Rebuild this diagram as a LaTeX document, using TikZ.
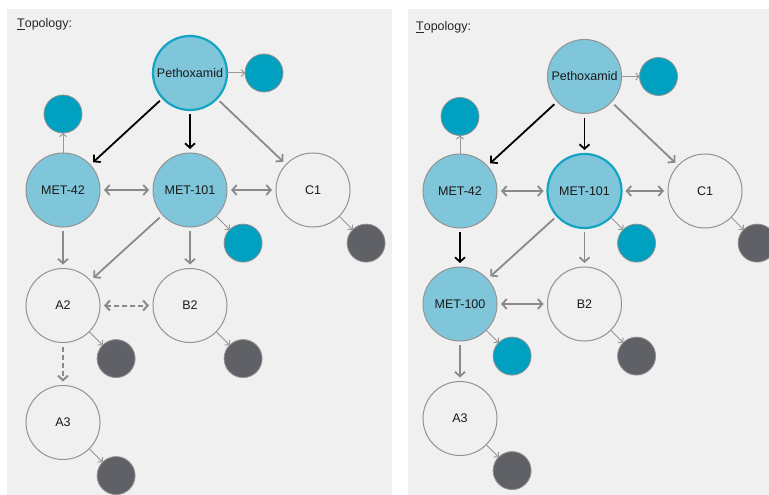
\documentclass[tikz,border=0pt]{standalone}
\usepackage{fontspec}
\setmainfont{Liberation Sans}
\usetikzlibrary{arrows.meta, positioning, calc}

\definecolor{panelbg}{HTML}{F0F0F0}
\definecolor{rimgrey}{HTML}{929292}
\definecolor{linkgrey}{HTML}{8A8A8A}
\definecolor{lightteal}{HTML}{7FC6DB}
\definecolor{deepteal}{HTML}{00A0C0}
\definecolor{rimteal}{HTML}{14A4C3}
\definecolor{slate}{HTML}{5F6166}

\begin{document}
\begin{tikzpicture}[
  x=1pt, y=-1pt,
  % --- styles ------------------------------------------------------------
  substance/.style={
    circle, draw=rimgrey, line width=1pt, fill=panelbg,
    minimum size=74pt, inner sep=0pt, outer sep=0pt,
    font=\fontsize{12.5}{15}\selectfont, text=black!90
  },
  known/.style={fill=lightteal},
  current/.style={draw=rimteal, line width=2.2pt},
  blob/.style={circle, draw=rimgrey, line width=0.8pt,
    minimum size=38pt, inner sep=0pt, outer sep=0pt},
  tealblob/.style={blob, fill=deepteal},
  slateblob/.style={blob, fill=slate},
  caption/.style={anchor=base west, inner sep=0pt,
    font=\fontsize{12.5}{15}\selectfont, text=black!85},
  flow/.style={-{Straight Barb[length=4.5pt,width=10pt]}, draw=linkgrey,
    line width=1.8pt, shorten <=4pt, shorten >=4pt},
  twoway/.style={flow,
    {Straight Barb[length=4.5pt,width=10pt]}-{Straight Barb[length=4.5pt,width=10pt]}},
  chosen/.style={flow, draw=black},
  maybe/.style={line width=2pt, dash pattern=on 5pt off 3pt},
  feed/.style={-{Straight Barb[length=3pt,width=7pt]}, draw=linkgrey!90,
    line width=1pt}
]
\useasboundingbox (0,0) rectangle (769,495);

% --------------------- left panel ---------------------------------------
\fill[panelbg] (7,9) rectangle (392,495);
\node[caption] (ltitle) at (17,27.5) {\underline{T}opology:};

\node[substance, known, current] (lpeth) at (190,73) {Pethoxamid};
\node[substance, known, below=43pt of lpeth] (lmet101) {MET-101};
\node[substance, known, left=53pt of lmet101] (lmet42) {MET-42};
\node[substance, right=49pt of lmet101] (lc1) {C1};
\node[substance, below=41.5pt of lmet42] (la2) {A2};
\node[substance, below=41.5pt of lmet101] (lb2) {B2};
\node[substance, below=43pt of la2] (la3) {A3};

\node[tealblob, right=18pt of lpeth] (lpethout) {};
\node[tealblob, above=20pt of lmet42] (lmet42out) {};
\node[tealblob, below right=13.5pt and 13.5pt of lmet101] (lmet101out) {};
\node[slateblob, below right=13.5pt and 13.5pt of lc1] (lc1out) {};
\node[slateblob, below right=13.5pt and 13.5pt of la2] (la2out) {};
\node[slateblob, below right=13.5pt and 13.5pt of lb2] (lb2out) {};
\node[slateblob, below right=13.5pt and 13.5pt of la3] (la3out) {};

\draw[chosen] (lpeth) -- (lmet42);
\draw[chosen] (lpeth) -- (lmet101);
\draw[flow] (lpeth) -- (lc1);
\draw[twoway] (lmet42) -- (lmet101);
\draw[twoway] (lmet101) -- (lc1);
\draw[flow] (lmet42) -- (la2);
\draw[flow] (lmet101) -- (la2);
\draw[flow] (lmet101) -- (lb2);
\draw[twoway, maybe] (la2) -- (lb2);
\draw[flow, maybe] (la2) -- (la3);

\draw[feed] (lpeth) -- (lpethout);
\draw[feed] (lmet42) -- (lmet42out);
\draw[feed] (lmet101) -- (lmet101out);
\draw[feed] (lc1) -- (lc1out);
\draw[feed] (la2) -- (la2out);
\draw[feed] (lb2) -- (lb2out);
\draw[feed] (la3) -- (la3out);

% --------------------- right panel --------------------------------------
\fill[panelbg] (408,9) rectangle (769,495);
\node[caption] (rtitle) at (416,30.5) {\underline{T}opology:};

\node[substance, known] (rpeth) at (584.5,76.5) {Pethoxamid};
\node[substance, known, current, below=40.5pt of rpeth] (rmet101) {MET-101};
\node[substance, known, left=50.5pt of rmet101] (rmet42) {MET-42};
\node[substance, right=46.5pt of rmet101] (rc1) {C1};
\node[substance, known, below=39pt of rmet42] (rmet100) {MET-100};
\node[substance, below=39pt of rmet101] (rb2) {B2};
\node[substance, below=40.5pt of rmet100] (ra3) {A3};

\node[tealblob, right=18pt of rpeth] (rpethout) {};
\node[tealblob, above=18.5pt of rmet42] (rmet42out) {};
\node[tealblob, below right=12.5pt and 12.5pt of rmet101] (rmet101out) {};
\node[slateblob, below right=12.5pt and 12.5pt of rc1] (rc1out) {};
\node[tealblob, below right=12.5pt and 12.5pt of rmet100] (rmet100out) {};
\node[slateblob, below right=12.5pt and 12.5pt of rb2] (rb2out) {};
\node[slateblob, below right=12.5pt and 12.5pt of ra3] (ra3out) {};

\draw[chosen] (rpeth) -- (rmet42);
\draw[chosen] (rpeth) -- (rmet101);
\draw[flow] (rpeth) -- (rc1);
\draw[twoway] (rmet42) -- (rmet101);
\draw[twoway] (rmet101) -- (rc1);
\draw[chosen] (rmet42) -- (rmet100);
\draw[flow] (rmet101) -- (rmet100);
\draw[flow] (rmet101) -- (rb2);
\draw[twoway] (rmet100) -- (rb2);
\draw[flow] (rmet100) -- (ra3);

\draw[feed] (rpeth) -- (rpethout);
\draw[feed] (rmet42) -- (rmet42out);
\draw[feed] (rmet101) -- (rmet101out);
\draw[feed] (rc1) -- (rc1out);
\draw[feed] (rmet100) -- (rmet100out);
\draw[feed] (rb2) -- (rb2out);
\draw[feed] (ra3) -- (ra3out);

\end{tikzpicture}
\end{document}
